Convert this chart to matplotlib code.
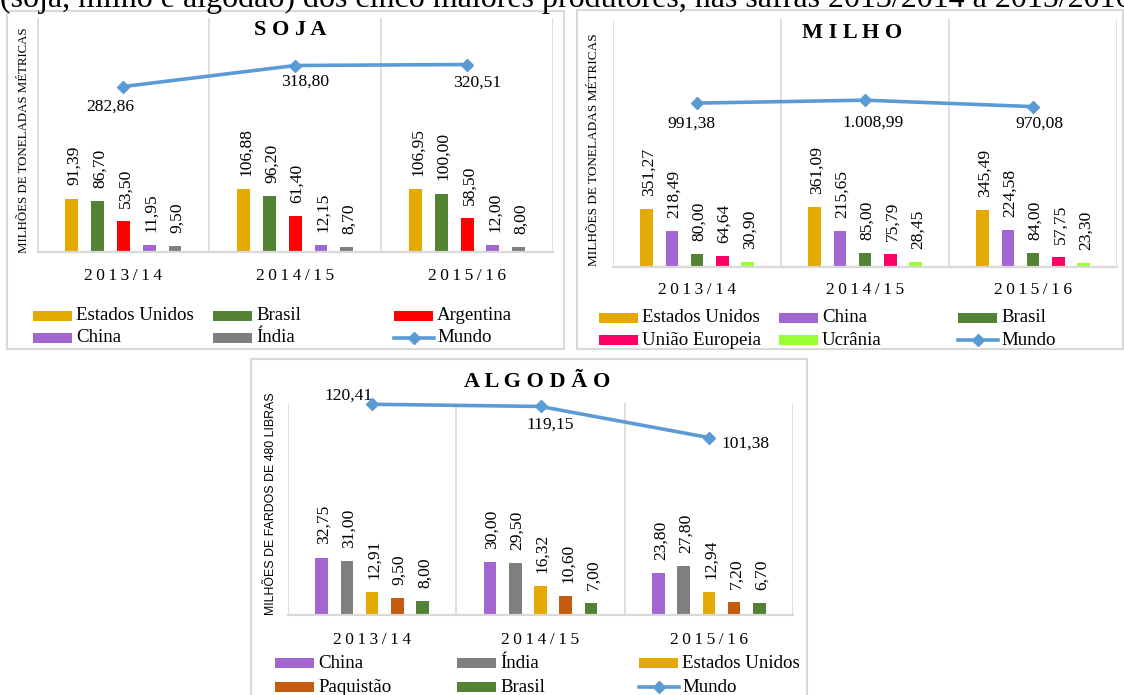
import matplotlib
matplotlib.use("Agg")
import matplotlib.pyplot as plt
from matplotlib.patches import Rectangle
from matplotlib.lines import Line2D
from matplotlib.transforms import blended_transform_factory
import numpy as np

W, H = 1124, 695
SERIF = ['Liberation Serif', 'DejaVu Serif']
SANS = ['Liberation Sans', 'DejaVu Sans']

# ---- data -------------------------------------------------------------
safras = ['2013/14', '2014/15', '2015/16']

soja_paises = ['Estados Unidos', 'Brasil', 'Argentina', 'China', 'Índia']
soja_valores = [
    [91.39, 106.88, 106.95],
    [86.70, 96.20, 100.00],
    [53.50, 61.40, 58.50],
    [11.95, 12.15, 12.00],
    [9.50, 8.70, 8.00],
]
soja_mundo = [282.86, 318.80, 320.51]

milho_paises = ['Estados Unidos', 'China', 'Brasil', 'União Europeia', 'Ucrânia']
milho_valores = [
    [351.27, 361.09, 345.49],
    [218.49, 215.65, 224.58],
    [80.00, 85.00, 84.00],
    [64.64, 75.79, 57.75],
    [30.90, 28.45, 23.30],
]
milho_mundo = [991.38, 1008.99, 970.08]

algodao_paises = ['China', 'Índia', 'Estados Unidos', 'Paquistão', 'Brasil']
algodao_valores = [
    [32.75, 30.00, 23.80],
    [31.00, 29.50, 27.80],
    [12.91, 16.32, 12.94],
    [9.50, 10.60, 7.20],
    [8.00, 7.00, 6.70],
]
algodao_mundo = [120.41, 119.15, 101.38]

# ---- style ------------------------------------------------------------
cores = {
    'Estados Unidos': '#e5aa00',
    'Brasil': '#548235',
    'Argentina': '#ff0000',
    'China': '#a366d1',
    'Índia': '#7f7f7f',
    'União Europeia': '#ff0066',
    'Ucrânia': '#99ff33',
    'Paquistão': '#c55a11',
}
COR_MUNDO = '#5b9bd5'
COR_GRADE = '#d9d9d9'
THIN = '\u2009'


def br(v):
    s = f"{v:,.2f}"
    return s.replace(',', '#').replace('.', ',').replace('#', '.')


def fx(x):
    return x / W


def fy(y):
    return 1 - y / H


fig = plt.figure(figsize=(W / 100, H / 100), dpi=100)
fig.patch.set_facecolor('white')

# heading line of the page, partly outside the canvas
cab = fig.text(fx(0.5), fy(6.5), '(soja, milho e algodão) dos cinco maiores produtores, '
               'nas safras 2013/2014 a 2015/2016', family=SERIF, fontsize=20,
               ha='left', va='baseline', color='black')
fig.canvas.draw()
largura = cab.get_window_extent().width
cab.set_fontsize(20 * 1132 / largura)


def painel(caixa, area, ymax, titulo, titulo_xy, ylabel, ylabel_xy, ylabel_family,
           ylabel_size, paises, valores, mundo, desloc_mundo, cat_y, leg_x, leg_y):
    # outer frame
    x0, y0, x1, y1 = caixa
    fig.add_artist(Rectangle((fx(x0), fy(y1)), fx(x1 - x0), (y1 - y0) / H,
                             transform=fig.transFigure, fill=False,
                             edgecolor=COR_GRADE, lw=1.5, zorder=0))
    ax0, ay0, ax1, ay1 = area
    ax = fig.add_axes([fx(ax0), fy(ay1), fx(ax1 - ax0), (ay1 - ay0) / H])
    ax.set_xlim(-0.5, len(safras) - 0.5)
    ax.set_ylim(0, ymax)
    ax.patch.set_alpha(0)
    for s in ['left', 'right', 'top']:
        ax.spines[s].set_visible(False)
    ax.spines['bottom'].set_color(COR_GRADE)
    ax.spines['bottom'].set_linewidth(1.6)
    ax.set_xticks([])
    ax.set_yticks([])
    for b in np.arange(-0.5, len(safras), 1.0):
        ax.axvline(b, color=COR_GRADE, lw=1.2, zorder=0)

    xs = np.arange(len(safras))
    n = len(paises)
    for i, (pais, vals) in enumerate(zip(paises, valores)):
        pos = xs + (i - (n - 1) / 2) * 0.15
        ax.bar(pos, vals, width=0.075, color=cores[pais], zorder=2)
        for p, v in zip(pos, vals):
            ax.annotate(br(v), (p, v), xytext=(1.5, 9.5), textcoords='offset points',
                        rotation=90, ha='center', va='bottom', family=SERIF,
                        fontsize=12.6, color='black')

    ax.plot(xs, mundo, color=COR_MUNDO, lw=2.6, marker='D', ms=6.2,
            clip_on=False, zorder=5)
    for x, v, (dx, dy) in zip(xs, mundo, desloc_mundo):
        ax.annotate(br(v), (x, v), xytext=(dx, dy), textcoords='offset pixels',
                    ha='center', va='center', family=SERIF, fontsize=12.6,
                    color='black', zorder=6)

    tr = blended_transform_factory(ax.transData, fig.transFigure)
    for x, s in zip(xs, safras):
        ax.text(x, fy(cat_y), THIN.join(s), transform=tr, ha='center', va='center',
                family=SERIF, fontsize=12.5, color='black')

    fig.text(fx(titulo_xy[0]), fy(titulo_xy[1]), ' '.join(titulo), ha='center',
             va='center', family=SERIF, fontsize=16, fontweight='bold', color='black')
    fig.text(fx(ylabel_xy[0]), fy(ylabel_xy[1]), ylabel, rotation=90, ha='center',
             va='center', family=ylabel_family, fontsize=ylabel_size, color='black')

    # legend laid out row by row in three columns
    entradas = [(p, 'bar') for p in paises] + [('Mundo', 'line')]
    for k, (nome, tipo) in enumerate(entradas):
        lx = leg_x[k % 3]
        ly = leg_y[k // 3]
        if tipo == 'bar':
            fig.add_artist(Rectangle((fx(lx), fy(ly + 5)), fx(39), 10 / H,
                                     transform=fig.transFigure, color=cores[nome], lw=0))
        else:
            fig.add_artist(Line2D([fx(lx), fx(lx + 40)], [fy(ly), fy(ly)],
                                  transform=fig.transFigure, color=COR_MUNDO, lw=2.6))
            fig.add_artist(Line2D([fx(lx + 20)], [fy(ly)], transform=fig.transFigure,
                                  color=COR_MUNDO, marker='D', ms=6.2, lw=0))
        fig.text(fx(lx + 43), fy(ly), nome, ha='left', va='center', family=SERIF,
                 fontsize=13.6, color='black')


painel(caixa=(7, 11, 564, 349), area=(37.5, 18, 553, 252), ymax=400,
       titulo='SOJA', titulo_xy=(290, 30),
       ylabel='MILHÕES DE TONELADAS MÉTRICAS', ylabel_xy=(24, 140), ylabel_family=SERIF,
       ylabel_size=9.3,
       paises=soja_paises, valores=soja_valores, mundo=soja_mundo,
       desloc_mundo=[(-13, -20), (10, -16), (10, -18)],
       cat_y=276, leg_x=(33, 213, 394), leg_y=(316, 338))

painel(caixa=(577, 10, 1123, 349), area=(613, 19, 1117, 267), ymax=1500,
       titulo='MILHO', titulo_xy=(852, 33),
       ylabel='MILHÕES DE TONELADAS MÉTRICAS', ylabel_xy=(594, 150), ylabel_family=SERIF,
       ylabel_size=9.5,
       paises=milho_paises, valores=milho_valores, mundo=milho_mundo,
       desloc_mundo=[(-6, -21), (8, -22), (6, -17)],
       cat_y=290, leg_x=(599, 779, 958), leg_y=(318, 340))

painel(caixa=(251, 359, 806.5, 720), area=(288, 402.7, 793, 615), ymax=121.3,
       titulo='ALGODÃO', titulo_xy=(537, 382),
       ylabel='MILHÕES DE FARDOS DE 480 LIBRAS', ylabel_xy=(271, 504), ylabel_family=SANS,
       ylabel_size=8.9,
       paises=algodao_paises, valores=algodao_valores, mundo=algodao_mundo,
       desloc_mundo=[(-24, 9), (9.5, -18), (37, -6)],
       cat_y=640, leg_x=(275, 457, 639), leg_y=(663, 687))

fig.savefig('out.png', dpi=100, facecolor='white')
